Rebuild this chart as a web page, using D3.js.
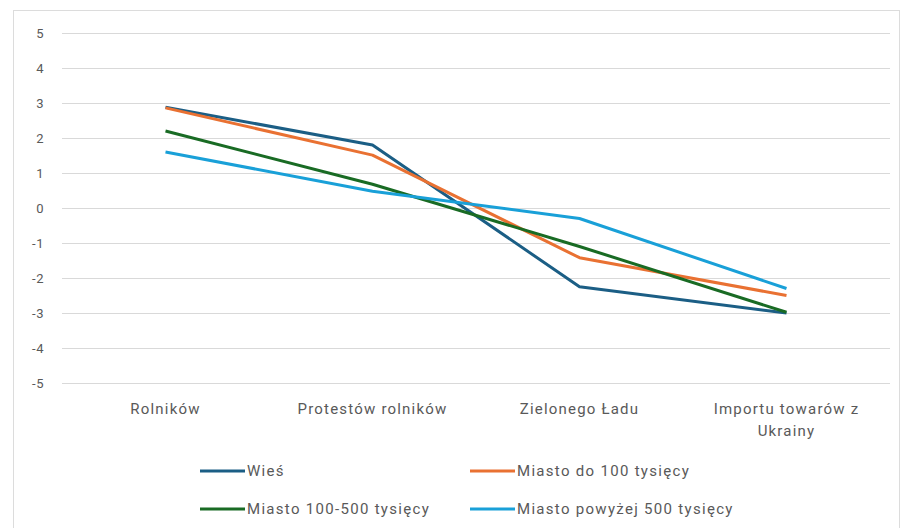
<!DOCTYPE html>
<html>
<head>
<meta charset="utf-8">
<script src="https://cdn.jsdelivr.net/npm/d3@7"></script>
<style>
  body { margin: 0; background: #fff; }
  text { font-family: Roboto, "Noto Sans", sans-serif; fill: #595959; }
</style>
</head>
<body>
<div id="main"></div>
<script>
// chart values
const categories = ["Rolników", "Protestów rolników", "Zielonego Ładu", "Importu towarów z Ukrainy"];
const seriesNames = ["Wieś", "Miasto do 100 tysięcy", "Miasto 100-500 tysięcy", "Miasto powyżej 500 tysięcy"];
const wies = [2.88, 1.8, -2.25, -3.0];
const miastoDo100 = [2.86, 1.51, -1.42, -2.5];
const miasto100500 = [2.2, 0.68, -1.1, -2.98];
const miastoPow500 = [1.6, 0.48, -0.3, -2.3];
const yTicks = [5, 4, 3, 2, 1, 0, -1, -2, -3, -4, -5];
const colors = ["#1b5e85", "#e97132", "#196b24", "#19a0d8"];

class LineChart {
  constructor(config) {
    this.config = config;
    this.svg = null;
    this.margins = null;
    this.xScale = null;
    this.yScale = null;
    this.series = [wies, miastoDo100, miasto100500, miastoPow500];
    this.createSvg();
    this.createMargins();
  }

  createSvg() {
    this.svg = d3.select(this.config.div)
      .append("svg")
      .attr("width", 906)
      .attr("height", 528);

    // card border
    this.svg.append("rect")
      .attr("x", 13.5).attr("y", 10.5)
      .attr("width", 886).attr("height", 530)
      .attr("fill", "#fff")
      .attr("stroke", "#dcdcdc");
  }

  createMargins() {
    this.margins = this.svg.append("g")
      .attr("transform", `translate(${this.config.left},${this.config.top})`);
  }

  createScales() {
    this.xScale = d3.scaleBand().domain(categories).range([0, this.config.width]);
    this.yScale = d3.scaleLinear().domain([-5, 5]).range([this.config.height, 0]);
  }

  createAxis() {
    const g = this.margins.append("g");
    g.selectAll("line")
      .data(yTicks)
      .join("line")
      .attr("x1", 0).attr("x2", this.config.width)
      .attr("y1", d => Math.round(this.yScale(d)) + 0.5)
      .attr("y2", d => Math.round(this.yScale(d)) + 0.5)
      .attr("stroke", "#d9d9d9")
      .attr("stroke-width", 1);

    g.selectAll("text")
      .data(yTicks)
      .join("text")
      .attr("x", -18)
      .attr("y", d => this.yScale(d))
      .attr("dy", "0.35em")
      .attr("text-anchor", "end")
      .attr("font-size", 13)
      .attr("letter-spacing", 0.5)
      .text(d => d);

    const xg = this.margins.append("g")
      .attr("transform", `translate(0,${this.config.height})`);
    const lines = d => d === "Importu towarów z Ukrainy" ? ["Importu towarów z", "Ukrainy"] : [d];
    xg.selectAll("text")
      .data(categories)
      .join("text")
      .attr("x", d => this.xScale(d) + this.xScale.bandwidth() / 2)
      .attr("y", 31)
      .attr("text-anchor", "middle")
      .attr("font-size", 15)
      .attr("letter-spacing", 1.2)
      .each(function(d) {
        lines(d).forEach((t, i) => {
          d3.select(this).append("tspan")
            .attr("x", d3.select(this).attr("x"))
            .attr("dy", i === 0 ? 0 : 22)
            .text(t);
        });
      });
  }

  createLines() {
    const line = d3.line()
      .x((d, i) => this.xScale(categories[i]) + this.xScale.bandwidth() / 2)
      .y(d => this.yScale(d));

    this.margins.selectAll("path.series")
      .data(this.series)
      .join("path")
      .attr("class", "series")
      .attr("d", line)
      .attr("fill", "none")
      .attr("stroke", (d, i) => colors[i])
      .attr("stroke-width", 3)
      .attr("stroke-linejoin", "round");
  }

  createLegend() {
    const pos = [[200, 471], [470, 471], [200, 509], [470, 509]];
    const lg = this.svg.append("g");
    const items = lg.selectAll("g")
      .data(seriesNames)
      .join("g")
      .attr("transform", (d, i) => `translate(${pos[i][0]},${pos[i][1]})`);
    items.append("line")
      .attr("x1", 0).attr("x2", 45)
      .attr("stroke", (d, i) => colors[i])
      .attr("stroke-width", 3);
    items.append("text")
      .attr("x", 47)
      .attr("dy", "0.35em")
      .attr("font-size", 15)
      .attr("letter-spacing", 1.3)
      .text(d => d);
  }
}

function main() {
  let c = {div: "#main", width: 828, height: 350, top: 33, left: 62};
  let a = new LineChart(c);
  a.createScales();
  a.createAxis();
  a.createLines();
  a.createLegend();
}

main();
</script>
</body>
</html>
